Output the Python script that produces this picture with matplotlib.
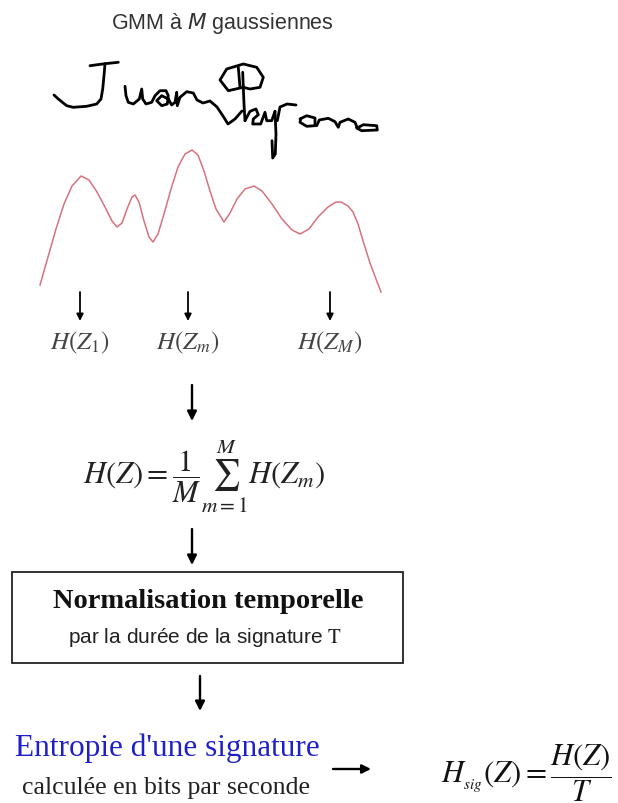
import numpy as np
import matplotlib
matplotlib.use("Agg")
import matplotlib.pyplot as plt
from matplotlib.patches import Rectangle

#%% DATA (pixel positions, y grows downwards)

title = "GMM à $M$ gaussiennes"

# red density curve of the GMM
curve_x = [40, 48, 56, 64, 72, 81, 89, 97, 105, 112, 117, 122, 127, 132, 135, 139,
           144, 149, 153, 158, 164, 171, 178, 185, 192, 198, 204, 210, 216, 224,
           230, 237, 245, 254, 262, 272, 282, 292, 300, 309, 318, 328, 336, 341,
           348, 353, 358, 364, 370, 376, 381]
curve_y = [286, 258, 230, 205, 187, 177, 181, 193, 208, 222, 228, 224, 210, 198, 196, 203,
           222, 238, 243, 235, 215, 190, 168, 155, 151, 156, 172, 192, 210, 223,
           214, 200, 190, 187, 192, 205, 220, 231, 235, 230, 218, 208, 203, 203,
           207, 213, 225, 245, 264, 280, 293]

# handwritten signature, one list of (x, y) per pen stroke
sig_strokes = [
    # J
    [(90, 66.7), (105, 64.7), (118.3, 63.3)],
    [(105, 64.7), (104, 76.7), (102.7, 90), (101, 100), (96.7, 105), (86.7, 107.3),
     (73.3, 108.3), (66.7, 106.7), (58.3, 100), (54, 96)],
    # uan
    [(125, 87.3), (126, 96.7), (128.3, 103.3), (133.3, 105), (139.3, 100), (141.7, 90),
     (142.7, 100), (146, 105), (151.7, 103.3), (155, 96.7), (160, 91.7), (166, 91.7),
     (168.3, 96.7), (167.3, 105), (161.7, 106.7), (156.7, 101.7), (161.7, 96.7),
     (168.3, 100), (171.7, 106), (175, 103.3), (176.7, 93.3), (177.3, 106.7),
     (180, 98.3), (186.7, 92.7), (193.3, 94), (197, 101), (203, 104), (210, 102),
     (217, 108), (223, 117), (228, 125), (235, 120), (242, 112)],
    # P
    [(242.7, 73.3), (243.3, 88.3), (244, 105), (245, 121.7)],
    [(243.3, 88.3), (228.3, 91.7), (220, 81), (226.7, 70), (243.3, 65), (256.7, 68.3),
     (263.3, 78.3), (260, 88.3), (250, 90), (243.3, 88.3)],
    [(238.3, 68.3), (240, 88.3)],
    # e y
    [(245, 121.7), (250, 112.3), (256, 110), (258.3, 115.7), (253.3, 120), (252.7, 125),
     (260.7, 125), (265, 113.3), (266.7, 121.7), (271.7, 121.7), (275, 112.3)],
    [(275, 112.3), (276, 135), (275.3, 155), (272.7, 159), (272, 141.7)],
    # r
    [(277.3, 121.7), (280, 108), (287, 105), (296, 106)],
    # o
    [(300, 120), (306.7, 116.7), (315, 119), (315, 126.7), (306.7, 127.3), (300, 123.3),
     (300.7, 120)],
    # n and final flourish
    [(316.7, 126.7), (319.3, 121), (328.3, 119.3), (335, 122.7), (338.3, 128.3),
     (340, 123.3), (348.3, 120), (355, 123.3), (357.3, 129), (363.3, 125.7),
     (376.7, 126.7), (377.3, 131), (361.7, 131.7), (356.7, 129)],
]

# per-gaussian entropies
comp_labels = [r"$H(Z_1)$", r"$H(Z_m)$", r"$H(Z_M)$"]
comp_x = [80, 188, 330]

mean_formula = r"$H(Z)=\dfrac{1}{M}\sum_{m=1}^{M}H(Z_m)$"
box_title = "Normalisation temporelle"
box_sub = r"par la durée de la signature $\mathrm{T}$"
result_title = "Entropie d'une signature"
result_sub = "calculée en bits par seconde"
result_formula = r"$H_{_{sig}}(Z)=\dfrac{H(Z)}{T}$"

#%% FIGURE

plt.rcParams['mathtext.fontset'] = 'stix'

fig = plt.figure(figsize=(6.18, 8.04), dpi=100)
ax = fig.add_axes([0, 0, 1, 1])
ax.set_xlim(0, 618)
ax.set_ylim(804, 0)
ax.axis('off')

ax.text(222, 24, title, ha='center', va='center', fontsize=15.5, color='#333333',
        family='Liberation Sans', math_fontfamily='dejavusans')

for stroke in sig_strokes:
    sx, sy = zip(*stroke)
    ax.plot(sx, sy, color='black', lw=2.0, solid_joinstyle='round', solid_capstyle='round')

ax.plot(curve_x, curve_y, color='#d8727c', lw=1.1)


def down_arrow(x, y0, y1, lw=1.4, head=11):
    ax.annotate('', xy=(x, y1), xytext=(x, y0),
                arrowprops=dict(arrowstyle='-|>', color='black', lw=lw,
                                mutation_scale=head, shrinkA=0, shrinkB=0))


for x in comp_x:
    down_arrow(x, 293, 322, lw=1.3, head=10)

for x, lab in zip(comp_x, comp_labels):
    ax.text(x, 343, lab, ha='center', va='center', fontsize=18, color='#444444')

down_arrow(192, 386, 422, lw=1.7, head=14)
ax.text(204, 476, mean_formula, ha='center', va='center', fontsize=22, color='#222222')
down_arrow(192, 530, 566, lw=1.7, head=14)

ax.add_patch(Rectangle((12, 573), 391, 91, fill=False, edgecolor='#222222', lw=1.3))
ax.text(208, 602, box_title, ha='center', va='center', fontsize=20.5, fontweight='bold',
        family='Liberation Serif', color='#111111')
ax.text(205, 638, box_sub, ha='center', va='center', fontsize=15, family='Liberation Sans',
        color='#222222')

down_arrow(200, 677, 712, lw=1.7, head=14)

ax.text(167, 748, result_title, ha='center', va='center', fontsize=22.5,
        family='Liberation Serif', color='#1f1fc8')
ax.text(166, 788, result_sub, ha='center', va='center', fontsize=18.5,
        family='Liberation Serif', color='#222222')

ax.annotate('', xy=(371, 770), xytext=(333, 770),
            arrowprops=dict(arrowstyle='-|>', color='black', lw=1.7,
                            mutation_scale=13, shrinkA=0, shrinkB=0))

ax.text(526, 773, result_formula, ha='center', va='center', fontsize=22, color='#111111')

fig.savefig('out.png', dpi=100, facecolor='white')
